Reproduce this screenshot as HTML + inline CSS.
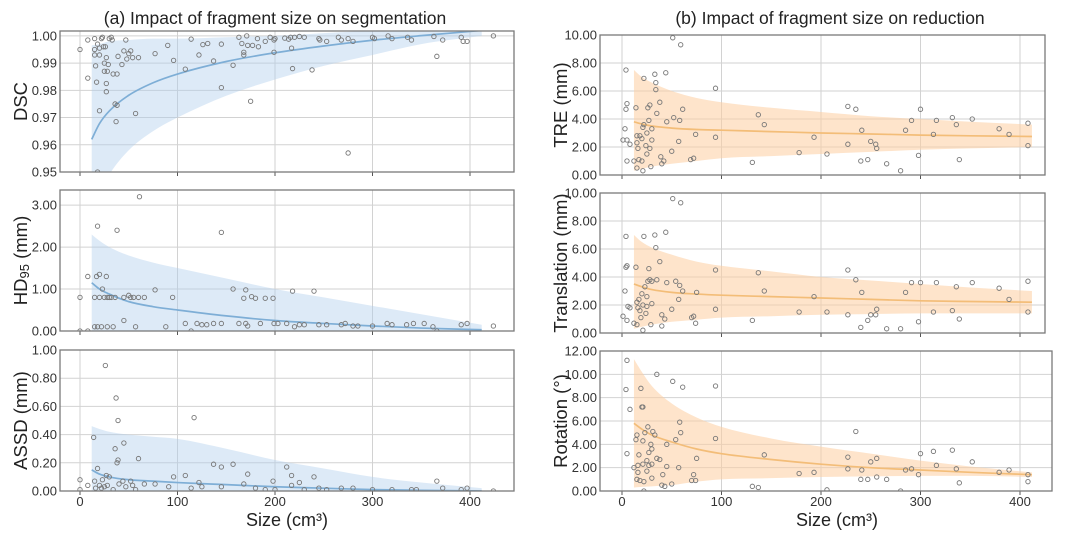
<!DOCTYPE html>
<html><head><meta charset="utf-8"><style>
body{margin:0;background:#fff}
svg{display:block;font-family:"Liberation Sans",sans-serif}
</style></head><body>
<svg id="fig" width="1080" height="535" viewBox="0 0 1080 535">
<text x="275" y="24" font-size="17.5" text-anchor="middle" fill="#222">(a) Impact of fragment size on segmentation</text>
<text x="830" y="24" font-size="17.5" text-anchor="middle" fill="#222">(b) Impact of fragment size on reduction</text>
<text x="287" y="526" font-size="18" text-anchor="middle" fill="#222">Size (cm³)</text>
<text x="837" y="526" font-size="18" text-anchor="middle" fill="#222">Size (cm³)</text>
</svg>
<script>
const xTicks=[0,100,200,300,400];
const fitX=[12,20,30,50,75,100,150,200,250,300,350,412];
// DSC
const dscFit=[0.962,0.9678,0.9724,0.9782,0.9828,0.986,0.9906,0.9938,0.9963,0.9984,1.0001,1.002];
const dscLo=[0.93,0.942,0.949,0.958,0.965,0.970,0.978,0.984,0.989,0.993,0.997,1.0];
const dscHi=[0.9965,0.997,0.998,0.9985,0.999,0.999,0.9995,1.0,1.001,1.002,1.003,1.004];
const dscTicks=[0.95,0.96,0.97,0.98,0.99,1.00];
const dscPts=[[0,.995],[8,.9985],[8,.9845],[15,.999],[15,.995],[15,.993],[16,.989],[17,.983],[18,.997],[20,.9955],[20,.993],[20,.9725],[22,.999],[23,.9995],[24,.996],[25,.99],[25,.987],[26,.996],[27,.992],[27,.9825],[27,.9795],[28,.987],[29,.9895],[30,.999],[32,.9995],[33,.9985],[34,.986],[36,.975],[37,.9685],[38,.9745],[38,.986],[39,.9925],[43,.9895],[45,.9945],[47,.9985],[48,.9915],[50,.9935],[52,.9945],[54,.992],[57,.9715],[60,.992],[77,.9935],[90,.9965],[96,.991],[108,.9878],[114,.9988],[122,.993],[126,.9968],[131,.9972],[137,.9908],[145,.997],[145,.981],[157,.9892],[163,.9995],[166,.9972],[168,.993],[168,.994],[171,1.0],[172,.9965],[175,.976],[177,.9965],[182,.999],[183,.996],[190,.998],[195,.9995],[199,.9985],[199,.994],[200,.999],[210,.9992],[214,.9988],[216,.9995],[217,.9955],[218,.988],[220,.9995],[225,.9998],[230,.9995],[238,.9875],[245,.999],[246,.9985],[253,.998],[265,.9995],[268,.9985],[275,.999],[275,.957],[280,.998],[300,.9995],[302,.999],[316,1.0],[320,.999],[336,.9995],[340,.9985],[363,.9998],[366,.9925],[372,.9985],[391,.9995],[393,.998],[397,.998],[424,1.0],[18,.950]];
// HD95
const hdFit=[1.15,1.0,0.88,0.7,0.58,0.5,0.36,0.25,0.18,0.12,0.07,0.03];
const hdLo=[0,0,0,0,0,0,0,0,0,0,0,0];
const hdHi=[2.3,2.15,2.0,1.8,1.63,1.5,1.25,1.0,0.8,0.6,0.4,0.15];
const hdTicks=[0,1,2,3];
const hdPts=[[0,0.8],[0,0],[8,1.3],[8,0],[15,0.8],[15,0.1],[17,1.3],[18,2.5],[18,0.1],[20,1.35],[20,0.8],[22,0.1],[23,1.0],[25,0.8],[27,1.3],[28,0.8],[28,0.1],[30,0.8],[32,0.8],[34,0.1],[36,0.8],[38,2.4],[42,3.48],[45,0.8],[45,0.25],[50,0.85],[52,0.8],[55,0.8],[57,0.1],[60,0.8],[61,3.2],[66,0.8],[77,0.98],[88,0.1],[95,0.8],[108,0.18],[114,0],[120,0.18],[125,0.15],[130,0.15],[137,0.18],[145,2.35],[145,0.18],[157,1.0],[163,0.18],[168,0.78],[170,0.98],[170,0.18],[172,0.12],[176,0.82],[180,0.78],[185,0.18],[190,0.78],[198,0.78],[199,0.18],[203,0.18],[212,0.18],[218,0.95],[220,0.1],[225,0.15],[230,0.15],[240,0.95],[245,0.15],[253,0.15],[268,0.15],[272,0.18],[280,0.12],[285,0.12],[300,0.12],[315,0.18],[320,0.15],[335,0.15],[342,0.18],[353,0.18],[362,0.1],[366,0],[391,0.15],[397,0.18],[424,0.12]];
// ASSD
const asFit=[0.15,0.12,0.1,0.08,0.07,0.06,0.045,0.03,0.02,0.01,0.005,0];
const asLo=[0,0,0,0,0,0,0,0,0,0,0,0];
const asHi=[0.46,0.44,0.42,0.40,0.385,0.37,0.3,0.22,0.16,0.1,0.06,0.02];
const asTicks=[0,0.2,0.4,0.6,0.8,1.0];
const asPts=[[0,0.08],[0,0.01],[8,0.04],[14,0.38],[15,0.07],[16,0.02],[18,0.16],[20,0.04],[22,0.02],[23,0.08],[25,0.03],[26,0.89],[27,0.11],[28,0.04],[30,0.1],[34,0.01],[36,0.3],[37,0.66],[38,0.2],[39,0.22],[39,0.5],[40,0.05],[44,0.07],[45,0.34],[47,0.03],[52,0.07],[54,0.04],[57,0.01],[60,0.23],[66,0.05],[77,0.05],[91,0.03],[96,0.1],[108,0.11],[114,0.02],[117,0.52],[122,0.06],[125,0.03],[137,0.19],[145,0.17],[145,0.03],[157,0.19],[168,0.05],[172,0.12],[180,0.02],[190,0.01],[198,0.07],[200,0.01],[212,0.17],[217,0.11],[217,0.04],[225,0.06],[230,0.01],[240,0.1],[245,0.02],[253,0.01],[268,0.02],[280,0.02],[300,0.01],[320,0.01],[340,0.01],[345,0.01],[366,0.07],[372,0.02],[391,0.01],[397,0.02],[424,0]];
// TRE
const treFit=[3.8,3.65,3.5,3.35,3.25,3.2,3.1,3.0,2.93,2.85,2.8,2.75];
const treLo=[0.3,0.45,0.6,0.8,1.0,1.2,1.35,1.5,1.65,1.8,1.9,2.0];
const treHi=[7.5,7.0,6.6,6.0,5.5,5.2,4.8,4.5,4.2,4.0,3.8,3.6];
const treTicks=[0,2,4,6,8,10];
const trePts=[[1,2.5],[3,3.3],[4,7.5],[4,4.7],[5,5.1],[5,2.5],[5,1.0],[8,2.2],[12,1.0],[14,4.8],[15,2.8],[15,2.3],[15,0.5],[16,1.9],[17,1.1],[18,2.8],[20,1.0],[20,2.6],[21,3.4],[21,0.3],[22,6.9],[22,3.6],[24,2.1],[25,3.0],[25,1.5],[26,4.8],[27,3.9],[28,1.9],[28,5.0],[29,0.6],[30,2.5],[30,3.3],[33,7.2],[34,6.6],[34,6.1],[35,4.4],[38,5.2],[39,1.3],[40,0.8],[42,1.0],[44,7.3],[45,3.8],[50,1.7],[51,9.8],[52,4.1],[57,2.4],[58,3.9],[59,9.3],[61,4.7],[69,1.1],[72,1.2],[74,2.9],[94,6.2],[94,2.7],[131,0.9],[137,4.3],[143,3.6],[178,1.6],[193,2.7],[206,1.5],[227,4.9],[227,2.2],[235,4.7],[240,1.0],[241,3.2],[247,1.1],[250,2.4],[255,2.2],[256,1.9],[266,0.8],[280,0.3],[285,3.2],[291,3.9],[298,1.4],[300,4.7],[313,2.9],[316,3.9],[332,4.1],[336,3.6],[339,1.1],[352,4.0],[379,3.3],[389,2.9],[408,3.7],[408,2.1]];
// Translation
const trFit=[3.5,3.3,3.1,2.9,2.78,2.7,2.6,2.5,2.4,2.3,2.25,2.2];
const trLo=[0.3,0.45,0.6,0.8,0.95,1.1,1.2,1.3,1.35,1.4,1.4,1.4];
const trHi=[7.0,6.5,6.1,5.6,5.1,4.8,4.4,4.0,3.75,3.5,3.25,3.0];
const trTicks=[0,2,4,6,8,10];
const trPts=[[4,6.9],[4,4.7],[5,4.8],[1,1.2],[3,3.0],[5,0.9],[6,1.9],[8,1.8],[12,0.7],[14,4.7],[15,2.2],[15,0.6],[16,1.8],[17,2.4],[18,1.6],[19,1.1],[20,2.8],[21,0.2],[21,2.0],[22,6.9],[23,3.3],[24,1.4],[25,1.9],[25,2.6],[26,3.7],[27,4.6],[28,3.8],[29,0.6],[30,2.1],[30,3.7],[33,7.0],[34,6.1],[35,3.8],[38,5.1],[40,1.3],[40,0.5],[43,1.0],[44,7.2],[45,3.6],[50,1.7],[51,9.6],[54,3.7],[57,2.4],[58,3.4],[59,9.3],[61,3.0],[70,1.1],[72,1.2],[74,0.7],[75,2.9],[94,4.5],[94,1.7],[131,0.9],[137,4.3],[143,3.0],[178,1.5],[193,2.6],[206,1.5],[227,4.5],[227,1.3],[235,3.8],[240,0.4],[241,2.9],[247,0.9],[250,1.3],[255,1.3],[256,1.7],[266,0.3],[280,0.3],[285,2.9],[291,3.6],[298,0.8],[300,3.6],[313,1.5],[316,3.6],[332,1.6],[336,3.3],[339,1.0],[352,3.6],[379,3.2],[389,2.4],[408,3.7],[408,1.5]];
// Rotation
const rotFit=[5.8,5.3,4.8,4.2,3.6,3.2,2.7,2.3,2.0,1.8,1.6,1.4];
const rotLo=[0.3,0.35,0.4,0.5,0.8,1.0,1.1,1.2,1.25,1.3,1.3,1.2];
const rotHi=[11.3,10.2,9.0,7.5,6.3,5.5,4.5,3.8,3.2,2.6,2.1,1.6];
const rotTicks=[0,2,4,6,8,10,12];
const rotPts=[[4,8.7],[5,3.2],[5,11.2],[8,7.0],[12,2.0],[14,4.4],[15,4.8],[15,1.0],[16,2.2],[16,1.6],[17,3.1],[18,0.9],[19,8.8],[20,7.2],[21,7.2],[21,2.3],[21,4.3],[22,0.8],[22,0],[23,5.0],[25,1.7],[25,2.6],[26,5.5],[27,2.2],[27,3.3],[29,4.0],[30,2.3],[30,3.6],[30,1.1],[31,5.1],[33,4.8],[35,2.8],[35,10.0],[38,2.7],[40,0.5],[41,1.4],[43,0.4],[45,2.1],[45,4.0],[50,0.6],[51,9.4],[54,4.4],[57,2.0],[58,5.9],[59,5.0],[61,8.9],[70,0.9],[72,1.4],[74,0.9],[75,2.8],[94,9.0],[94,4.5],[131,0.4],[137,0.3],[143,3.1],[178,1.5],[193,1.6],[206,0.1],[227,2.9],[227,1.9],[235,5.1],[240,1.0],[241,1.8],[247,1.0],[250,2.5],[256,2.8],[256,1.2],[266,1.0],[280,0],[285,1.8],[291,1.9],[298,1.4],[300,3.2],[313,3.4],[316,2.2],[332,3.5],[336,1.9],[339,0.7],[352,2.5],[379,1.6],[389,1.8],[408,1.4],[408,0.8]];

const NS='http://www.w3.org/2000/svg';
const svg=document.getElementById('fig');
function mk(tag,attrs,parent){const e=document.createElementNS(NS,tag);for(const k in attrs)e.setAttribute(k,attrs[k]);(parent||svg).appendChild(e);return e;}
// monotone-ish smooth path (Fritsch-Carlson tangents) to avoid overshoot with uneven spacing
function smooth(xs,ys){
 const n=xs.length,m=new Array(n),dl=[];
 for(let i=0;i<n-1;i++)dl.push((ys[i+1]-ys[i])/(xs[i+1]-xs[i]));
 m[0]=dl[0];m[n-1]=dl[n-2];
 for(let i=1;i<n-1;i++)m[i]=(dl[i-1]*dl[i]<=0)?0:(dl[i-1]+dl[i])/2;
 let d='M'+xs[0]+','+ys[0];
 for(let i=0;i<n-1;i++){
  const h=(xs[i+1]-xs[i])/3;
  d+='C'+(xs[i]+h)+','+(ys[i]+m[i]*h)+' '+(xs[i+1]-h)+','+(ys[i+1]-m[i+1]*h)+' '+xs[i+1]+','+ys[i+1];
 }
 return d;
}

const panels=[
 {id:'dsc',L:60,R:514,T:31,B:172,x0:80,x100:97.5,y0:0.95,y1:1.0018,ticks:dscTicks,fmt:2,fit:dscFit,lo:dscLo,hi:dscHi,pts:dscPts,title:'DSC',tx:22,col:'blue'},
 {id:'hd95',L:60,R:514,T:190,B:331,x0:80,x100:97.5,y0:0,y1:3.36,ticks:hdTicks,fmt:2,fit:hdFit,lo:hdLo,hi:hdHi,pts:hdPts,title:'HD95',tx:22,col:'blue'},
 {id:'assd',L:60,R:514,T:350,B:491,x0:80,x100:97.5,y0:0,y1:1.0,ticks:asTicks,fmt:2,fit:asFit,lo:asLo,hi:asHi,pts:asPts,title:'ASSD (mm)',tx:22,col:'blue',xlab:true},
 {id:'tre',L:600,R:1045,T:35,B:175,x0:622,x100:99.5,y0:0,y1:10,ticks:treTicks,fmt:2,fit:treFit,lo:treLo,hi:treHi,pts:trePts,title:'TRE (mm)',tx:562,col:'orange'},
 {id:'translation',L:600,R:1045,T:193,B:333,x0:622,x100:99.5,y0:0,y1:10,ticks:trTicks,fmt:2,fit:trFit,lo:trLo,hi:trHi,pts:trPts,title:'Translation (mm)',tx:562,col:'orange'},
 {id:'rotation',L:600,R:1052,T:351,B:491,x0:622,x100:99.5,y0:0,y1:12,ticks:rotTicks,fmt:2,fit:rotFit,lo:rotLo,hi:rotHi,pts:rotPts,title:'Rotation (°)',tx:562,col:'orange',xlab:true}
];
const colors={blue:{band:'rgba(175,205,235,0.42)',line:'#7eaed6'},orange:{band:'rgba(253,205,160,0.55)',line:'#f3bd78'}};

panels.forEach(p=>{
 const sx=v=>p.x0+v*p.x100/100;
 const sy=v=>p.B-(v-p.y0)/(p.y1-p.y0)*(p.B-p.T);
 const g=mk('g',{});
 
 
 const cp=mk('clipPath',{id:'cp-'+p.id},g);
 mk('rect',{x:p.L,y:p.T,width:p.R-p.L,height:p.B-p.T},cp);
 xTicks.forEach(t=>{
  const l=mk('line',{x1:sx(t),x2:sx(t),y1:p.T,y2:p.B,stroke:'#d2d2d2','stroke-width':1},g);
  
  
  mk('line',{x1:sx(t),x2:sx(t),y1:p.B,y2:p.B+4,stroke:'#555','stroke-width':1},g);
  if(p.xlab){const tt=mk('text',{x:sx(t),y:p.B+15,'font-size':13,'text-anchor':'middle',fill:'#333'},g);tt.textContent=t;
   
   }
 });
 p.ticks.forEach(t=>{
  const y=sy(t);
  if(y>p.T+0.5&&y<p.B-0.5){const l=mk('line',{x1:p.L,x2:p.R,y1:y,y2:y,stroke:'#d2d2d2','stroke-width':1},g);
   
   }
  const tt=mk('text',{x:p.L-3,y:y+4.5,'font-size':13,'text-anchor':'end',fill:'#333'},g);
  tt.textContent=t.toFixed(p.fmt);
  
  
 });
 const c=colors[p.col];
 const cg=mk('g',{'clip-path':'url(#cp-'+p.id+')'},g);
 const xs=fitX.map(sx);
 const hiP=smooth(xs,p.hi.map(sy));
 const loRevX=xs.slice().reverse(),loRevY=p.lo.map(sy).reverse();
 const loP=smooth(loRevX,loRevY).replace(/^M/,'L');
 const band=mk('path',{d:hiP+loP+'Z',fill:c.band,stroke:'none'},cg);
 
 
 const line=mk('path',{d:smooth(xs,p.fit.map(sy)),fill:'none',stroke:c.line,'stroke-width':1.7},cg);
 
 
 p.pts.forEach(pt=>{
  const ci=mk('circle',{cx:sx(pt[0]),cy:sy(pt[1]),r:2.2,fill:'none',stroke:'#777','stroke-width':0.9},cg);
  
  
 });
 const fr=mk('rect',{x:p.L,y:p.T,width:p.R-p.L,height:p.B-p.T,fill:'none',stroke:'#7a7a7a','stroke-width':1.3},g);
 
 
 const cy=(p.T+p.B)/2;
 const yt=mk('text',{x:p.tx,y:cy,'font-size':18.5,'text-anchor':'middle',fill:'#222',transform:'rotate(-90 '+p.tx+' '+cy+')','dominant-baseline':'middle'},g);
 if(p.title==='HD95'){yt.textContent='HD';const ts=mk('tspan',{'font-size':13,dy:4},yt);ts.textContent='95';const t2=mk('tspan',{dy:-4},yt);t2.textContent=' (mm)';}
 else yt.textContent=p.title;
 
 
});
</script>
</body></html>
